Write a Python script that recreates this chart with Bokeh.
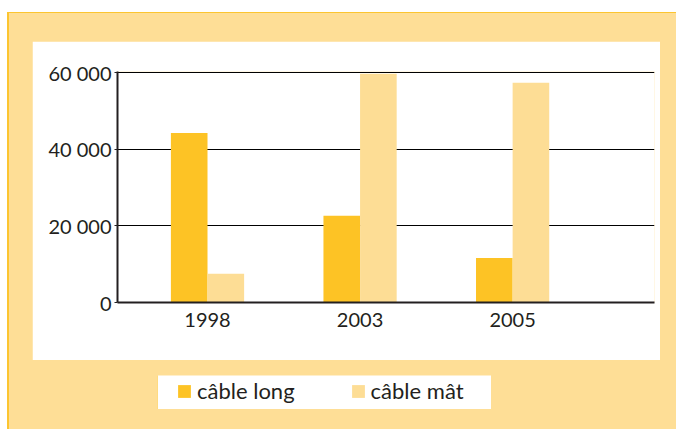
from bokeh.plotting import figure
from bokeh.models import ColumnDataSource, Range1d, FixedTicker, Legend, LegendItem
from bokeh.layouts import column
from bokeh.transform import dodge
from bokeh.embed import file_html
from bokeh.resources import INLINE

# ---- data ----
years = ["1998", "2003", "2005"]
cable_long = [44200, 22600, 11600]
cable_mat = [7500, 59700, 57300]
y_ticks = [0, 20000, 40000, 60000]
y_tick_labels = ["0", "20 000", "40 000", "60 000"]
series_names = ["câble long", "câble mât"]

# ---- style ----
LONG = "#FDC325"
MAT = "#FDDD95"
PANEL = "#FEDE96"
EDGE = "#FCC530"
INK = "#231F20"
FONT = "Lato"

src = ColumnDataSource(dict(x=list(range(len(years))), long=cable_long, mat=cable_mat))

p = figure(width=628, height=319,
           min_border_left=85, min_border_right=6, min_border_top=30, min_border_bottom=58,
           x_range=Range1d(-0.59, 2.93), y_range=Range1d(0, 60261),
           output_backend="svg", toolbar_location=None, margin=(28, 16, 0, 23))
p.frame_align = False
p.background_fill_color = "white"
p.border_fill_color = "white"
p.outline_line_color = None

p.vbar(x=dodge("x", -0.12, range=p.x_range), top="long", width=0.24, source=src,
       fill_color=LONG, line_color=None)
p.vbar(x=dodge("x", 0.12, range=p.x_range), top="mat", width=0.24, source=src,
       fill_color=MAT, line_color=None)

p.xgrid.visible = False
p.ygrid.grid_line_color = "black"
p.ygrid.grid_line_width = 1
p.ygrid.level = "underlay"

p.yaxis.ticker = FixedTicker(ticks=y_ticks)
p.yaxis.major_label_overrides = {t: l for t, l in zip(y_ticks, y_tick_labels)}
p.xaxis.ticker = FixedTicker(ticks=list(range(len(years))))
p.xaxis.major_label_overrides = {i: y for i, y in enumerate(years)}

for ax in (p.xaxis[0], p.yaxis[0]):
    ax.axis_line_color = INK
    ax.axis_line_width = 2
    ax.minor_tick_line_color = None
    ax.major_tick_in = 0
    ax.major_label_text_font = FONT
    ax.major_label_text_font_size = "20px"
    ax.major_label_text_color = INK
p.yaxis.major_tick_out = 3
p.yaxis.major_tick_line_color = INK
p.yaxis.major_label_standoff = 3
p.xaxis.major_tick_out = 0
p.xaxis.major_tick_line_color = None
p.xaxis.major_label_standoff = 10

# ---- legend strip ----
lg = figure(width=334, height=34, x_range=Range1d(10, 11), y_range=Range1d(0, 1),
            x_axis_type=None, y_axis_type=None, min_border=0,
            output_backend="svg", toolbar_location=None, margin=(15, 185, 20, 148))
lg.frame_align = False
lg.grid.visible = False
lg.outline_line_color = None
lg.background_fill_color = "white"
lg.border_fill_color = "white"
r1 = lg.vbar(x="x", top="long", width=0.24, source=src, fill_color=LONG, line_color=None)
r2 = lg.vbar(x="x", top="mat", width=0.24, source=src, fill_color=MAT, line_color=None)

leg = Legend(items=[LegendItem(label=series_names[0], renderers=[r1]),
                    LegendItem(label=series_names[1], renderers=[r2])],
             location=(19, 5), orientation="horizontal", spacing=55,
             glyph_width=16, glyph_height=16, label_standoff=5, padding=0, margin=0,
             border_line_color=None, background_fill_alpha=0,
             label_text_font=FONT, label_text_font_size="22px", label_text_color=INK,
             label_height=16)
lg.add_layout(leg)

layout = column(p, lg, width=669, height=417, margin=(12, 0, 0, 7),
                styles={"background-color": PANEL,
                        "border-top": "1px solid " + EDGE,
                        "border-left": "2px solid " + EDGE})

open("out.html", "w").write(file_html(layout, INLINE))
